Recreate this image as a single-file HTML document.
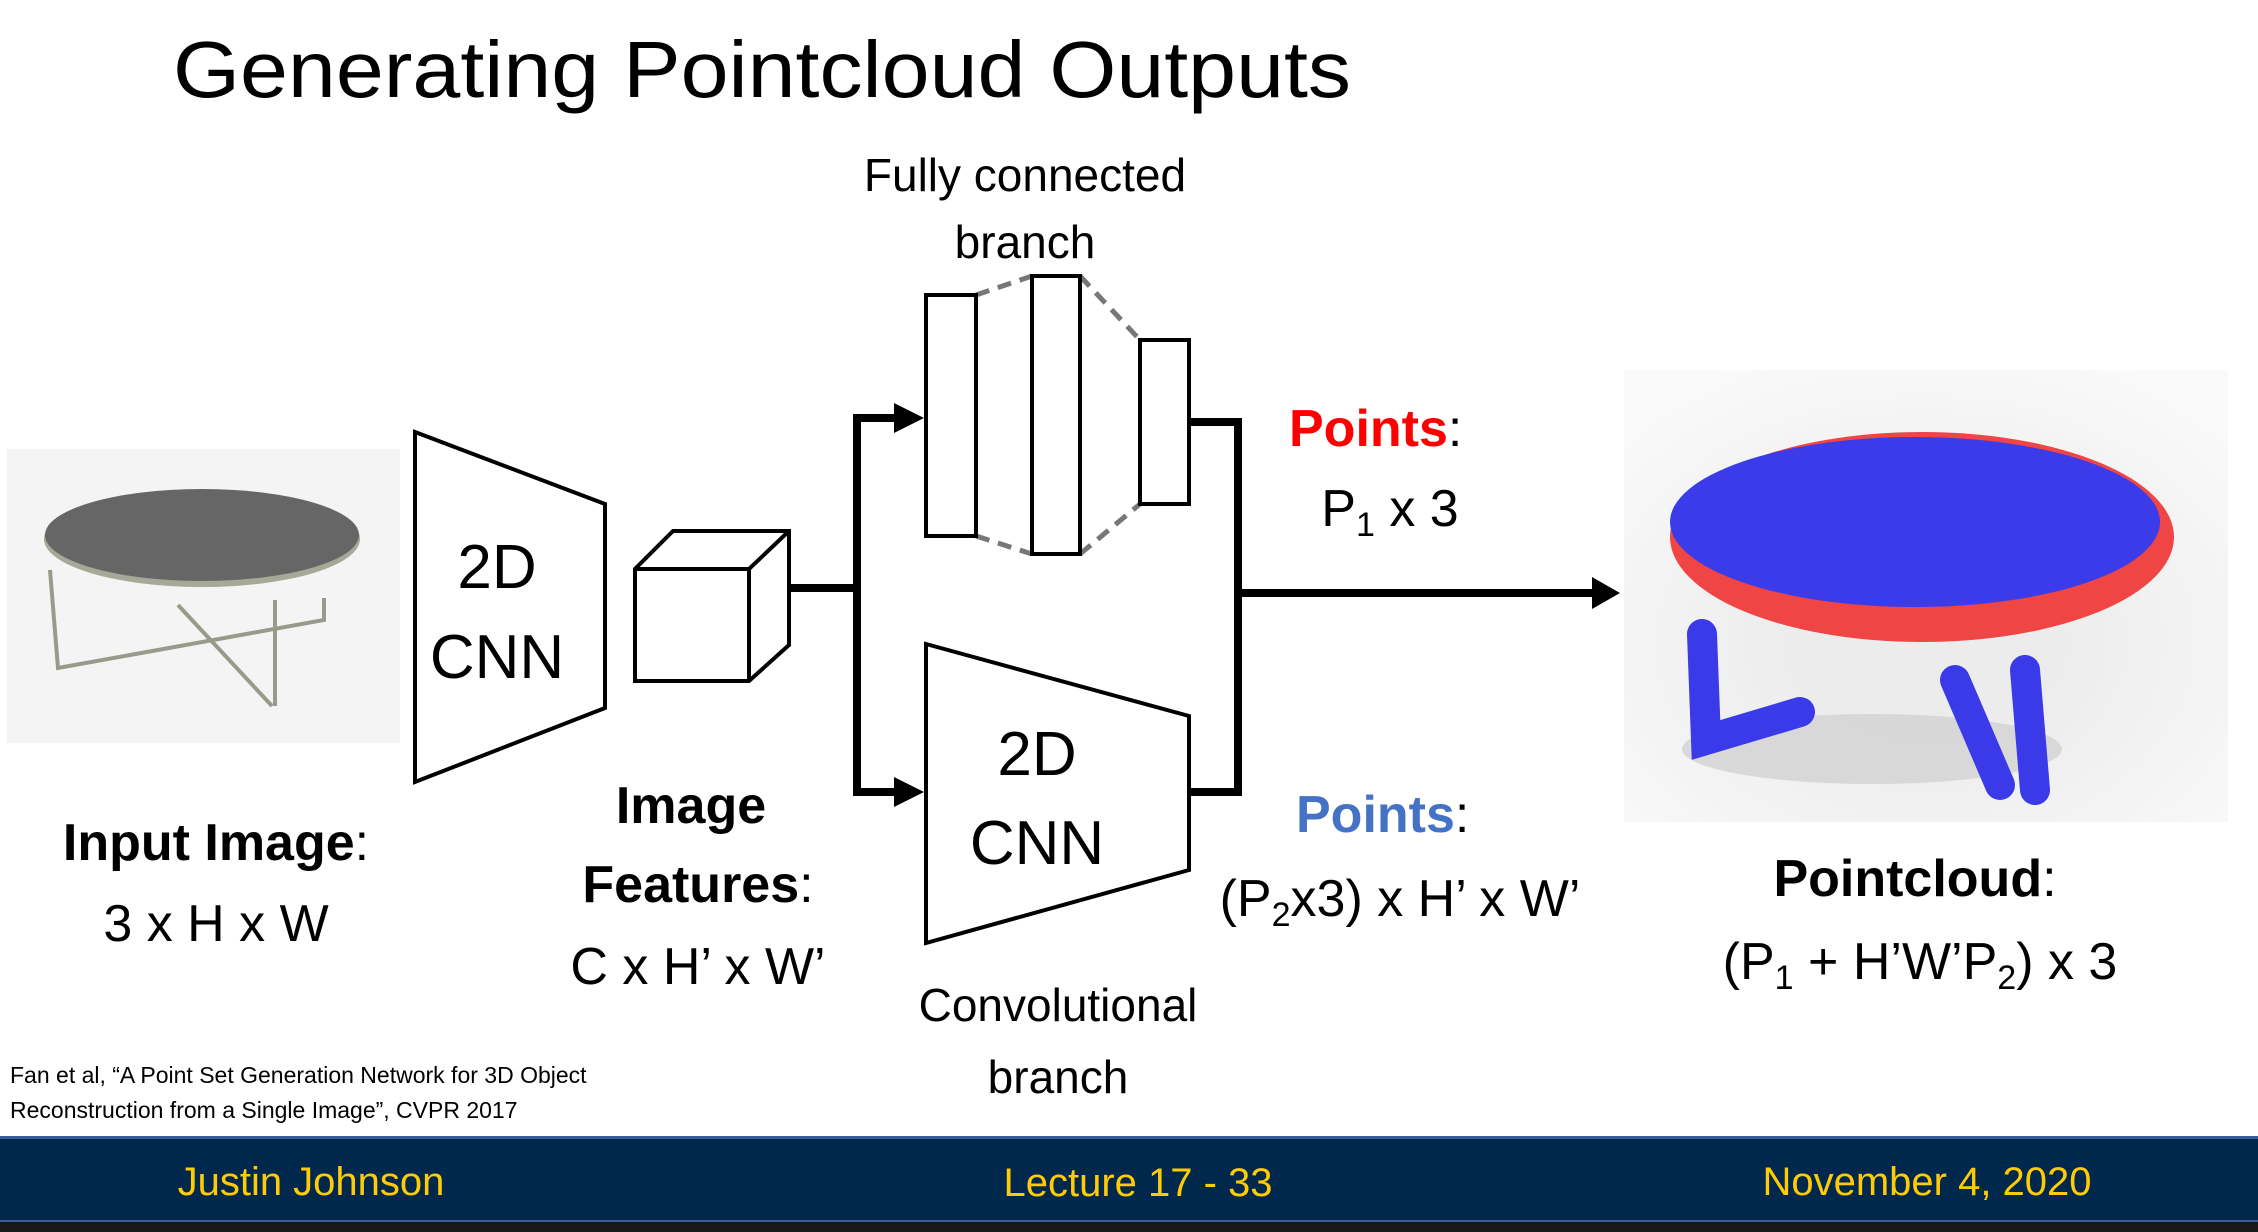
<!DOCTYPE html>
<html><head><meta charset="utf-8"><style>
html,body{margin:0;padding:0;background:#fff}
svg{display:block}
text{font-family:"Liberation Sans",sans-serif}
</style></head><body>
<svg width="2258" height="1232" viewBox="0 0 2258 1232" xmlns="http://www.w3.org/2000/svg">
<defs>
<radialGradient id="pcbg" cx="0.5" cy="0.6" r="0.7"><stop offset="0.3" stop-color="#ececec"/><stop offset="1" stop-color="#fafafa"/></radialGradient>
</defs>
<rect width="2258" height="1232" fill="#fff"/>
<text x="173" y="97" font-size="80" textLength="1178" lengthAdjust="spacingAndGlyphs">Generating Pointcloud Outputs</text>

<!-- input image -->
<rect x="7" y="449" width="393" height="294" fill="#f4f4f4"/>
<g stroke="#9a9a8a" stroke-width="4" fill="none">
<polyline points="50,570 58,668 324,620 324,598"/>
<line x1="178" y1="605" x2="272" y2="706"/>
<line x1="275" y1="600" x2="275" y2="706"/>
</g>
<ellipse cx="202" cy="539" rx="158" ry="48" fill="#a8a898"/>
<ellipse cx="202" cy="535" rx="157" ry="46" fill="#666"/>

<!-- left CNN -->
<polygon points="415,432 605,504 605,708 415,782" stroke="#000" stroke-width="4" fill="#fff"/>
<text x="497" y="588" font-size="62" text-anchor="middle">2D</text>
<text x="497" y="678" font-size="62" text-anchor="middle">CNN</text>

<!-- cube -->
<g stroke="#000" stroke-width="4" fill="#fff">
<polygon points="635,569 673,531 789,531 789,645 749,681 635,681"/>
<polyline points="635,569 749,569 789,531" fill="none"/>
<line x1="749" y1="569" x2="749" y2="681"/>
</g>

<!-- connectors -->
<g stroke="#000" stroke-width="8" fill="none">
<line x1="789" y1="588" x2="857" y2="588"/>
<polyline points="900,418 857,418 857,792 900,792"/>
<polyline points="1189,422 1238,422 1238,792 1189,792"/>
<line x1="1238" y1="593" x2="1595" y2="593"/>
</g>
<polygon points="894,403 924,418 894,433" fill="#000"/>
<polygon points="894,777 924,792 894,807" fill="#000"/>
<polygon points="1592,577 1620,593 1592,609" fill="#000"/>

<!-- FC layers -->
<g stroke="#777" stroke-width="5" stroke-dasharray="14,9" fill="none">
<line x1="976" y1="295" x2="1032" y2="276"/>
<line x1="976" y1="536" x2="1032" y2="554"/>
<line x1="1080" y1="276" x2="1140" y2="340"/>
<line x1="1080" y1="554" x2="1140" y2="504"/>
</g>
<g stroke="#000" stroke-width="4" fill="#fff">
<rect x="926" y="295" width="50" height="241"/>
<rect x="1032" y="276" width="48" height="278"/>
<rect x="1140" y="340" width="49" height="164"/>
</g>
<text x="1025" y="191" font-size="46" text-anchor="middle">Fully connected</text>
<text x="1025" y="258" font-size="46" text-anchor="middle">branch</text>

<!-- lower CNN -->
<polygon points="926,644 1189,716 1189,870 926,943" stroke="#000" stroke-width="4" fill="#fff"/>
<text x="1037" y="775" font-size="62" text-anchor="middle">2D</text>
<text x="1037" y="864" font-size="62" text-anchor="middle">CNN</text>
<text x="1058" y="1021" font-size="46" text-anchor="middle">Convolutional</text>
<text x="1058" y="1093" font-size="46" text-anchor="middle">branch</text>

<!-- labels -->
<text x="216" y="860" font-size="52" text-anchor="middle"><tspan font-weight="bold">Input Image</tspan>:</text>
<text x="216" y="941" font-size="52" text-anchor="middle">3 x H x W</text>
<text x="691" y="823" font-size="52" text-anchor="middle" font-weight="bold">Image</text>
<text x="698" y="902" font-size="52" text-anchor="middle"><tspan font-weight="bold">Features</tspan>:</text>
<text x="698" y="984" font-size="52" text-anchor="middle">C x H’ x W’</text>

<text x="1289" y="446" font-size="52"><tspan font-weight="bold" fill="#ff0000">Points</tspan>:</text>
<text x="1390" y="526" font-size="52" text-anchor="middle">P<tspan font-size="34" dy="10">1</tspan><tspan dy="-10"> x 3</tspan></text>
<text x="1296" y="832" font-size="52"><tspan font-weight="bold" fill="#4472C4">Points</tspan>:</text>
<text x="1400" y="916" font-size="52" text-anchor="middle">(P<tspan font-size="34" dy="10">2</tspan><tspan dy="-10">x3) x H’ x W’</tspan></text>

<!-- pointcloud -->
<rect x="1624" y="370" width="604" height="452" fill="url(#pcbg)"/>
<ellipse cx="1872" cy="749" rx="190" ry="35" fill="#d2d2d2" opacity="0.8"/>
<g stroke="#3a3ae8" stroke-width="30" stroke-linecap="round" fill="none">
<polyline points="1702,634 1706,740 1800,712"/>
<line x1="1955" y1="680" x2="2000" y2="785"/>
<line x1="2025" y1="670" x2="2035" y2="790"/>
</g>
<ellipse cx="1922" cy="537" rx="252" ry="105" fill="#f04545"/>
<ellipse cx="1915" cy="522" rx="245" ry="85" fill="#3b3bea"/>

<text x="1915" y="896" font-size="52" text-anchor="middle"><tspan font-weight="bold">Pointcloud</tspan>:</text>
<text x="1920" y="979" font-size="52" text-anchor="middle">(P<tspan font-size="34" dy="10">1</tspan><tspan dy="-10"> + H’W’P</tspan><tspan font-size="34" dy="10">2</tspan><tspan dy="-10">) x 3</tspan></text>

<text x="10" y="1083" font-size="23">Fan et al, “A Point Set Generation Network for 3D Object</text>
<text x="10" y="1118" font-size="23">Reconstruction from a Single Image”, CVPR 2017</text>

<!-- footer -->
<rect x="0" y="1136" width="2258" height="86" fill="#00274c"/>
<rect x="0" y="1136" width="2258" height="3" fill="#3a5a9a"/>
<rect x="0" y="1220" width="2258" height="2" fill="#3a5a9a"/>
<rect x="0" y="1222" width="2258" height="10" fill="#181818"/>
<g fill="#ffcb05" font-size="40" text-anchor="middle">
<text x="311" y="1195">Justin Johnson</text>
<text x="1138" y="1196">Lecture 17 - 33</text>
<text x="1927" y="1195">November 4, 2020</text>
</g>
</svg>
</body></html>
